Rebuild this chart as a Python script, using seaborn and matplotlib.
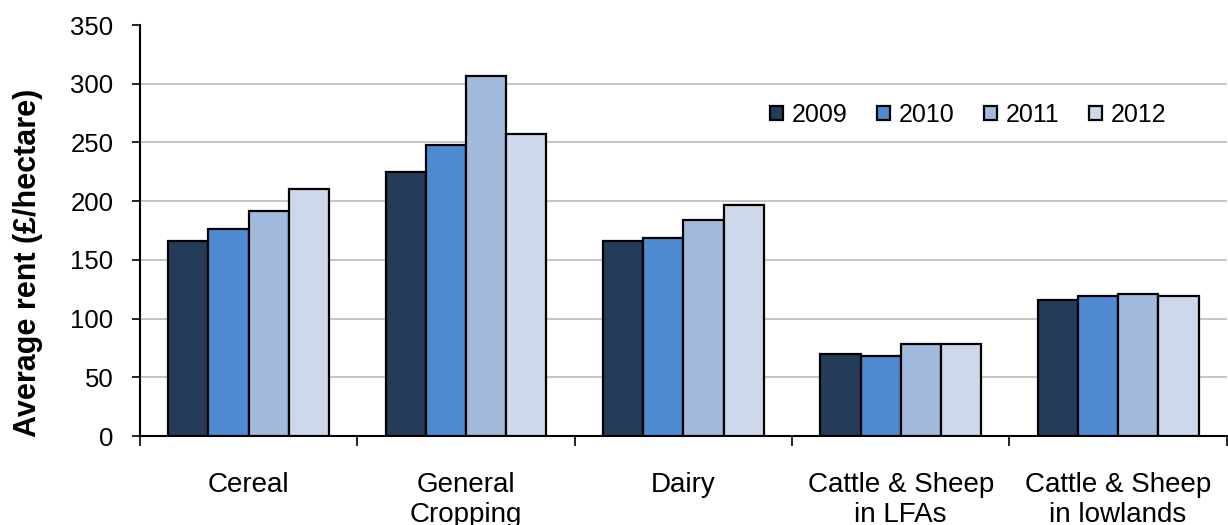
import matplotlib
matplotlib.use("Agg")
import matplotlib.pyplot as plt
import seaborn as sns
import pandas as pd
from matplotlib.ticker import FixedLocator, NullFormatter

# Average farm rent by farm type and year
categories = ["Cereal", "General\nCropping", "Dairy",
              "Cattle & Sheep\nin LFAs", "Cattle & Sheep\nin lowlands"]
years = ["2009", "2010", "2011", "2012"]
rent_2009 = [166, 225, 166, 70, 116]
rent_2010 = [176, 248, 169, 68, 119]
rent_2011 = [192, 307, 184, 78, 121]
rent_2012 = [210, 257, 197, 78, 119]
y_ticks = [0, 50, 100, 150, 200, 250, 300, 350]

colors = ["#243B5A", "#4F8BD3", "#A2BBDD", "#CDD9EA"]

rows = []
for year, vals in zip(years, [rent_2009, rent_2010, rent_2011, rent_2012]):
    for cat, v in zip(categories, vals):
        rows.append({"Farm type": cat, "Year": year, "Rent": v})
df = pd.DataFrame(rows)

sns.set_style("white")
plt.rcParams["font.family"] = ["Liberation Sans", "DejaVu Sans"]
plt.rcParams["text.color"] = "black"
plt.rcParams["axes.labelcolor"] = "black"
plt.rcParams["xtick.color"] = "black"
plt.rcParams["ytick.color"] = "black"

fig = plt.figure(figsize=(12.28, 5.25), dpi=100)
ax = fig.add_axes([0.114, 0.1695, 0.885, 0.7828])

sns.barplot(data=df, x="Farm type", y="Rent", hue="Year", order=categories,
            hue_order=years, palette=colors, width=0.74, gap=0,
            edgecolor="black", linewidth=1.6, saturation=1, ax=ax, zorder=3)

ax.set_ylim(0, 350)
ax.set_xlim(-0.5, len(categories) - 0.5)
ax.set_yticks(y_ticks)
ax.tick_params(axis="y", labelsize=18.5, length=6, width=1.2,
               direction="out", left=True, pad=13)

# category boundaries carry the tick marks, labels sit at centres
ax.xaxis.set_major_locator(FixedLocator([i - 0.5 for i in range(len(categories) + 1)]))
ax.xaxis.set_major_formatter(NullFormatter())
ax.xaxis.set_minor_locator(FixedLocator(list(range(len(categories)))))
ax.set_xticklabels(categories, minor=True)
ax.tick_params(axis="x", which="major", length=7, width=1.2,
               direction="out", bottom=True)
ax.tick_params(axis="x", which="minor", length=0, labelsize=20, pad=26)

ax.yaxis.grid(True, color="#C0C0C0", linewidth=1.3, zorder=0)
ax.set_axisbelow(True)
ax.get_ygridlines()[-1].set_visible(False)

for side in ["top", "right"]:
    ax.spines[side].set_visible(False)
for side in ["left", "bottom"]:
    ax.spines[side].set_color("black")
    ax.spines[side].set_linewidth(1.5)

ax.set_xlabel("")
ax.set_ylabel("Average rent (£/hectare)", fontsize=22, fontweight="bold")
ax.yaxis.set_label_coords(-0.089, 0.421)

ax.legend(loc="center", bbox_to_anchor=(0.762, 0.781), ncol=4, frameon=False,
          fontsize=18, handlelength=0.5, handleheight=0.5, handletextpad=0.35,
          columnspacing=1.2)

fig.savefig("out.png", dpi=100)
